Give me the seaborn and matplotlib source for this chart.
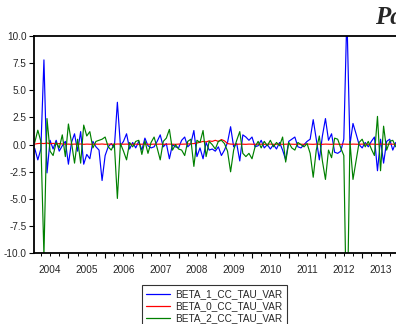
import numpy as np
import pandas as pd
import matplotlib
matplotlib.use("Agg")
import matplotlib.pyplot as plt
from matplotlib.lines import Line2D
import seaborn as sns

# Monthly observations, Feb 2004 onwards
months = pd.date_range("2004-02-01", periods=119, freq="MS")

beta_1 = [
    -0.35, -1.4, -0.4, 7.8, -2.6, 0.4, -0.4, 0.4, -0.6, -0.1,
    0.3, -1.8, 0.2, 1.0, -0.6, 1.2, -1.8, -0.9, -1.3, 0.3,
    -0.2, -0.5, -3.3, -1.0, -0.2, 0.1, -0.3, 3.9, -0.1, 0.3,
    1.0, -0.4, 0.2, -0.3, 0.3, -0.5, 0.6, -0.1, -0.3, -0.2,
    0.3, 0.9, -0.2, 0.1, -1.3, 0.0, -0.2, -0.3, 0.4, 0.7,
    -0.2, 0.1, 1.3, -1.1, -0.3, -1.3, 0.2, -0.5, -0.4, -0.6,
    -0.2, -1.0, -0.5, 0.2, 1.65, -0.2, 0.1, -1.5, 0.9, 0.7,
    0.4, 0.7, -0.2, -0.1, 0.4, -0.3, 0.0, -0.4, 0.0, -0.4,
    0.2, -0.5, -1.4, 0.3, 0.5, 0.7, -0.2, -0.3, 0.0, 0.3,
    0.5, 2.3, 0.5, -1.4, 0.8, 2.4, 0.4, 1.0, -0.7, -0.8,
    -0.6, 0.5, 12.0, 0.0, 1.95, 1.0, 0.0, -0.3, 0.2, -0.2,
    0.3, 0.7, -2.4, 0.5, -1.7, 0.3, 0.5, -0.5, 0.2,
]

beta_0 = [
    0.05, 0.1, 0.12, 0.1, 0.15, 0.08, 0.12, 0.05, 0.1, 0.06,
    0.04, 0.05, 0.03, 0.05, 0.04, 0.06, 0.03, 0.05, 0.04, 0.03,
    0.05, 0.04, 0.06, 0.03, 0.05, 0.04, 0.03, 0.06, 0.05, 0.04,
    0.05, 0.03, 0.04, 0.05, 0.03, 0.04, 0.05, 0.04, 0.03, 0.05,
    0.04, 0.05, 0.03, 0.04, 0.05, 0.04, 0.03, 0.05, 0.04, 0.05,
    0.06, 0.08, 0.1, 0.15, 0.22, 0.3, 0.25, 0.35, 0.3, 0.4,
    0.3, 0.47, 0.35, 0.1, 0.05, 0.04, 0.03, 0.05, 0.04, 0.03,
    0.05, 0.04, 0.03, 0.05, 0.04, 0.03, 0.04, 0.05, 0.03, 0.04,
    0.05, 0.03, 0.04, 0.05, 0.04, 0.03, 0.05, 0.04, 0.03, 0.05,
    0.04, 0.03, 0.05, 0.04, 0.03, 0.05, 0.04, 0.03, 0.05, 0.04,
    0.03, 0.05, 0.04, 0.03, 0.05, 0.04, 0.03, 0.05, 0.04, 0.03,
    0.05, 0.04, 0.03, 0.05, 0.04, 0.03, 0.05, 0.04, 0.03,
]

beta_2 = [
    0.2, 1.33, 0.3, -10.2, 2.4, -0.6, -1.0, 0.2, -0.3, 0.9,
    -1.1, 1.9, 0.2, -1.7, 0.5, -1.7, 1.8, 0.8, 1.2, -0.3,
    0.3, 0.4, 0.5, 0.7, -0.2, -0.5, 0.1, -4.95, 0.1, -0.6,
    -1.4, 0.2, -0.2, 0.3, 0.4, -0.9, 0.35, -0.8, 0.2, 0.7,
    -0.3, -1.4, 0.3, 0.6, 1.4, -0.5, 0.0, -0.4, -0.5, -1.0,
    0.3, 0.5, -2.0, 0.4, 0.2, 1.3, -1.1, 0.3, 0.0, -0.4,
    0.3, 0.4, 0.1, -0.6, -2.5, -0.5, 0.4, 1.2, -0.8, -1.1,
    -0.8, -1.3, -0.2, 0.3, -0.3, 0.3, -0.1, 0.4, -0.2, 0.2,
    -0.1, 0.7, -1.6, 0.2, -0.3, -0.5, 0.2, 0.0, -0.2, 0.1,
    -0.8, -3.0, -0.5, 0.8, -1.5, -3.2, -0.5, -1.2, 0.6, 0.5,
    -0.3, -1.0, -18.0, 0.3, -3.2, -1.5, 0.2, 0.5, -0.2, 0.3,
    -0.4, -1.0, 2.6, -2.4, 1.7, -0.5, 0.3, 0.4, -0.2,
]

series_names = ["BETA_1_CC_TAU_VAR", "BETA_0_CC_TAU_VAR", "BETA_2_CC_TAU_VAR"]
series_colors = ["#0000FF", "#FF0000", "#008000"]
year_labels = [str(y) for y in range(2004, 2015)]
y_ticks = [-10.0, -7.5, -5.0, -2.5, 0.0, 2.5, 5.0, 7.5, 10.0]

# decimal-year position of each month
t = months.year + (months.month - 1) / 12.0

df = pd.concat(
    [pd.DataFrame({"t": t, "value": vals, "series": name})
     for name, vals in zip(series_names, [beta_1, beta_0, beta_2])],
    ignore_index=True,
)

sns.set_theme(style="ticks")
plt.rcParams["font.family"] = ["Liberation Sans", "DejaVu Sans"]

W, H = 396, 324
fig = plt.figure(figsize=(W / 100, H / 100), dpi=100)
fig.patch.set_facecolor("white")

x_left, x_right = 2004.071, 2014.5
px_per_year = 37.6
ax_left, ax_top, ax_bottom = 34.3, 36.0, 253.3
ax = fig.add_axes([
    ax_left / W,
    1 - ax_bottom / H,
    (x_right - x_left) * px_per_year / W,
    (ax_bottom - ax_top) / H,
])
ax.set_facecolor("white")

sns.lineplot(
    data=df, x="t", y="value", hue="series", hue_order=series_names,
    palette=series_colors, linewidth=0.85, ax=ax, legend=False,
    estimator=None, sort=False,
)

ax.set_xlim(x_left, x_right)
ax.set_ylim(-10, 10)
ax.set_xlabel("")
ax.set_ylabel("")

# y axis
ax.set_yticks(y_ticks)
ax.set_yticklabels([f"{v:.1f}" for v in y_ticks], fontsize=7.2)
ax.tick_params(axis="y", direction="out", length=3.6, width=0.8, pad=2, color="black")

# x axis: year boundaries (major), quarters (minor), labels centred on each year
ax.set_xticks(np.arange(2005, 2015))
ax.set_xticklabels([])
ax.set_xticks([y + q for y in range(2004, 2015) for q in (0.25, 0.5, 0.75)], minor=True)
ax.tick_params(axis="x", which="major", direction="out", length=3.6, width=0.8, color="black")
ax.tick_params(axis="x", which="minor", direction="out", length=2.0, width=0.7, color="black")

sec = ax.secondary_xaxis("bottom")
sec.set_xticks([y + 0.5 for y in range(2004, 2015)])
sec.set_xticklabels(year_labels, fontsize=7.2)
sec.tick_params(length=0, pad=8.5)
sec.spines["bottom"].set_visible(False)

for side in ["top", "left", "bottom", "right"]:
    ax.spines[side].set_color("black")
    ax.spines[side].set_linewidth(1.3)

fig.text(375 / W, 1 - 24 / H, "Panel A", fontsize=18, fontweight="bold",
         style="italic", family=["Liberation Serif", "DejaVu Serif"], va="baseline", ha="left")

handles = [Line2D([0], [0], color=c, lw=0.9) for c in series_colors]
leg = fig.legend(
    handles, series_names, loc="upper left",
    bbox_to_anchor=(141.7 / W, 1 - 285 / H), borderaxespad=0,
    fontsize=7.2, frameon=True, fancybox=False, edgecolor="black",
    handlelength=2.4, handletextpad=0.5, labelspacing=0.2, borderpad=0.45,
)
leg.get_frame().set_linewidth(0.8)

fig.savefig("out.png", dpi=100, facecolor="white")
